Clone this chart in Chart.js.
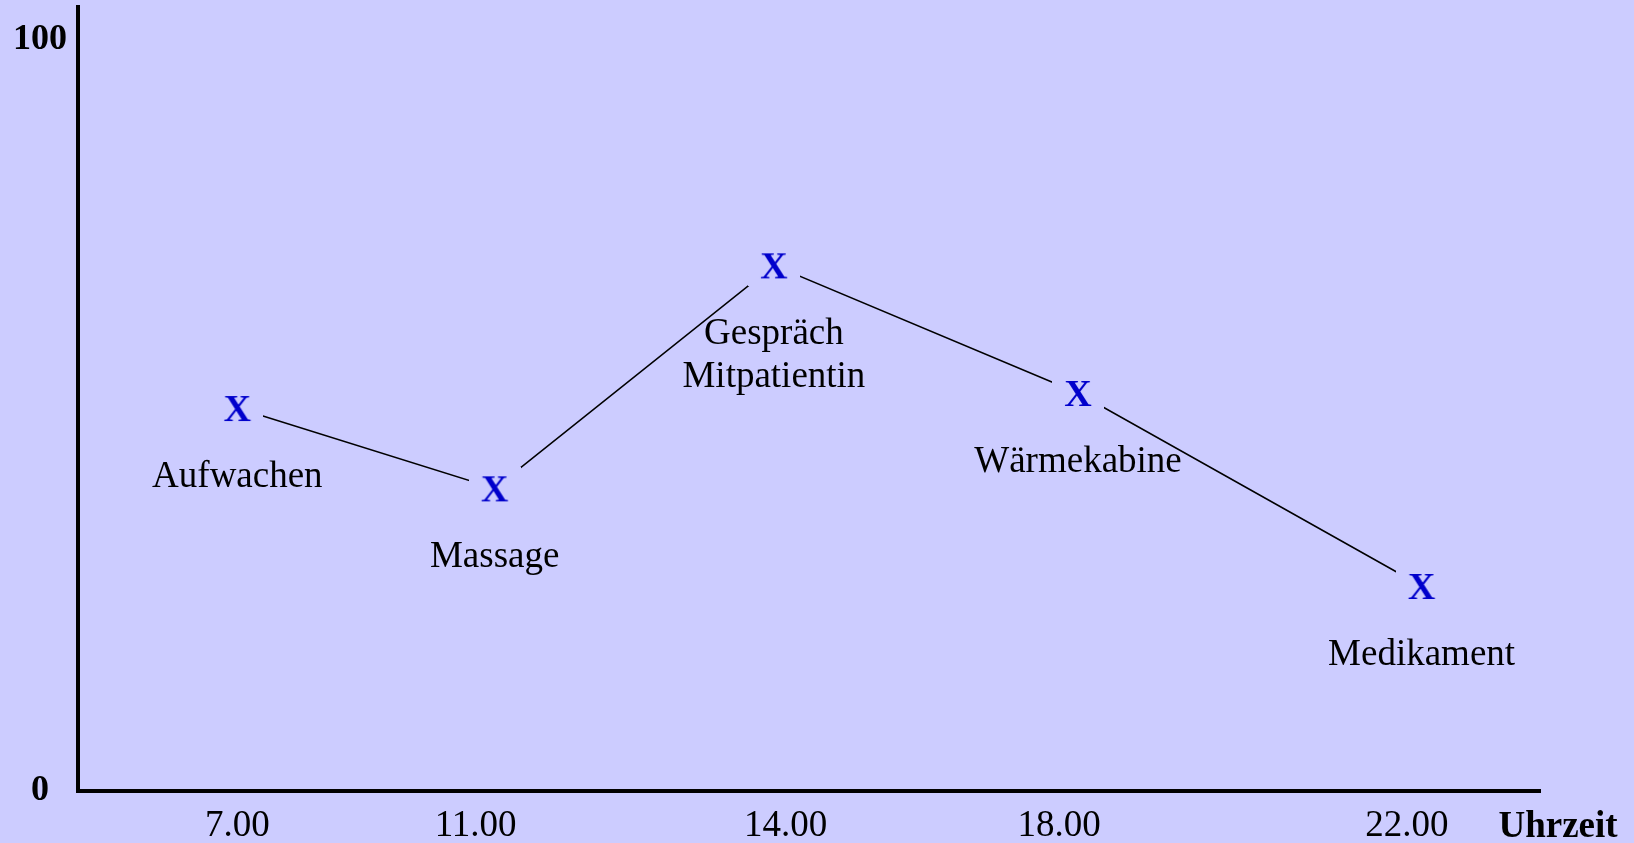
<!DOCTYPE html>
<html>
<head>
<meta charset="utf-8">
<script src="https://cdn.jsdelivr.net/npm/chart.js@4/dist/chart.umd.min.js"></script>
<style>
  html, body { margin: 0; padding: 0; background: #ccccff; overflow: hidden; }
  #wrap { width: 1634px; height: 843px; }
</style>
</head>
<body>
<div id="wrap"><canvas id="chart"></canvas></div>
<script>
// activities over the day, x = position along the time axis (0-100), y = mood (0-100)
const activities = ["Aufwachen", "Massage", ["Gespräch", "Mitpatientin"], "Wärmekabine", "Medikament"];
const activityPos = [10.9, 28.5, 47.6, 68.4, 91.9];
const moodValues = [51, 40.3, 70, 53, 27.3];

const timeLabels = ["7.00", "11.00", "14.00", "18.00", "22.00"];
const timePos = [10.9, 27.2, 48.4, 67.1, 90.9];
const yTicks = [0, 100];

const BG = "#ccccff";
const SERIF = "'Liberation Serif', 'Times New Roman', serif";

// X marker with a background box so the line stops short of it
function makeMarker() {
  const c = document.createElement("canvas");
  c.width = 52;
  c.height = 42;
  const g = c.getContext("2d");
  g.fillStyle = BG;
  g.fillRect(0, 0, c.width, c.height);
  g.fillStyle = "#0000cc";
  g.font = "bold 38px " + SERIF;
  g.textAlign = "center";
  g.textBaseline = "alphabetic";
  g.fillText("X", 26, 34);
  return c;
}

const activityLabels = {
  id: "activityLabels",
  afterDatasetsDraw(chart) {
    const { ctx, scales: { x, y } } = chart;
    ctx.save();
    ctx.fillStyle = "#000";
    ctx.textAlign = "center";
    ctx.textBaseline = "alphabetic";
    ctx.font = "37px " + SERIF;
    activities.forEach((name, i) => {
      const px = x.getPixelForValue(activityPos[i]);
      const py = y.getPixelForValue(moodValues[i]) + 79;
      const lines = Array.isArray(name) ? name : [name];
      lines.forEach((t, j) => ctx.fillText(t, px, py + j * 43));
    });
    // axis title sits on the tick label row
    ctx.font = "bold 37px " + SERIF;
    ctx.fillText("Uhrzeit", x.right + 18, chart.chartArea.bottom + 46);
    ctx.restore();
  }
};

const marker = makeMarker();
const ctx = document.getElementById("chart").getContext("2d");
new Chart(ctx, {
  type: "line",
  data: {
    datasets: [{
      data: activityPos.map((p, i) => ({ x: p, y: moodValues[i] })),
      borderColor: "#000",
      borderWidth: 1.5,
      tension: 0,
      fill: false,
      pointStyle: marker,
      pointRadius: 1,
      pointHoverRadius: 1,
      pointBorderWidth: 0
    }]
  },
  options: {
    responsive: true,
    maintainAspectRatio: false,
    animation: false,
    events: [],
    layout: { padding: { top: 7, right: 94, left: 0, bottom: 0 } },
    plugins: { legend: { display: false }, tooltip: { enabled: false } },
    scales: {
      x: {
        type: "linear",
        min: 0,
        max: 100,
        grid: { display: false, drawTicks: false },
        border: { display: true, color: "#000", width: 4 },
        afterBuildTicks: s => { s.ticks = timePos.map(v => ({ value: v })); },
        afterFit: s => { s.height = 52; s.paddingLeft = 0; s.paddingRight = 0; },
        ticks: {
          autoSkip: false,
          maxRotation: 0,
          padding: 13,
          color: "#000",
          font: { family: SERIF, size: 37 },
          callback: (v, i) => timeLabels[i]
        }
      },
      y: {
        min: 0,
        max: 104.4,
        grid: { display: false, drawTicks: false },
        border: { display: true, color: "#000", width: 4 },
        afterBuildTicks: s => { s.ticks = yTicks.map(v => ({ value: v })); },
        afterFit: s => { s.width = 78; s.paddingTop = 0; s.paddingBottom = 0; },
        ticks: {
          crossAlign: "center",
          padding: 11,
          color: "#000",
          font: { family: SERIF, size: 36, weight: "bold" },
          callback: v => String(v)
        }
      }
    }
  },
  plugins: [activityLabels]
});
</script>
</body>
</html>
